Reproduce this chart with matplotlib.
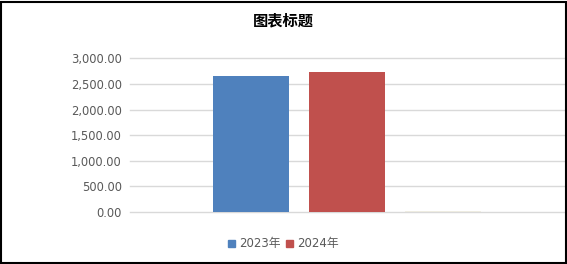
import matplotlib
matplotlib.use('Agg')
import matplotlib.pyplot as plt
from matplotlib.patches import Patch, Rectangle
from matplotlib.ticker import FuncFormatter
import numpy as np

plt.rcParams['font.family'] = ['DejaVu Sans', 'Noto Sans CJK SC']

title = '图表标题'
series = ['2023年', '2024年', '']
values = [2656, 2734, 12]
colors = ['#4F81BD', '#C0504D', '#EEECE1']
yticks = [0, 500, 1000, 1500, 2000, 2500, 3000]

W, H = 567, 264
fig = plt.figure(figsize=(W / 100, H / 100), dpi=100)
ax = fig.add_axes([130 / W, 1 - 212 / H, 434 / W, (212 - 58.4) / H])

# three bars in a single category, excel style
width = 76 / 434
step = 96 / 434
offsets = (np.arange(len(values)) - 1) * step
ax.bar(offsets, values, width=width, color=colors, zorder=3)

ax.set_xlim(-0.5, 0.5)
ax.set_ylim(0, 3000)
ax.set_yticks(yticks)
ax.yaxis.set_major_formatter(FuncFormatter(lambda v, p: f'{v:,.2f}'))
ax.set_xticks([])
ax.tick_params(axis='y', length=0, pad=5.8, labelsize=8.3, labelcolor='#595959')
ax.grid(axis='y', color='#D9D9D9', linewidth=1, zorder=0)
for line in ax.get_ygridlines():
    line.set_clip_on(False)
for s in ax.spines.values():
    s.set_visible(False)

fig.text(0.5, 1 - 20 / H, title, ha='center', va='center', fontsize=11,
         family=['Noto Sans CJK SC'], fontweight='bold', color='black')

handles = [Patch(color=c, label=l) for c, l in zip(colors[:2], series[:2])]
fig.legend(handles=handles, loc='center', bbox_to_anchor=(283 / W, 1 - 244 / H),
           ncol=2, frameon=False, fontsize=8.5, labelcolor='#595959',
           handlelength=0.6, handleheight=0.6, handletextpad=0.35,
           columnspacing=0.45, borderpad=0)

fig.patches.append(Rectangle((1 / W, 1.5 / H), 564.5 / W, 261 / H, transform=fig.transFigure,
                             fill=False, edgecolor='black', linewidth=1.5))

fig.savefig('out.png', dpi=100)
